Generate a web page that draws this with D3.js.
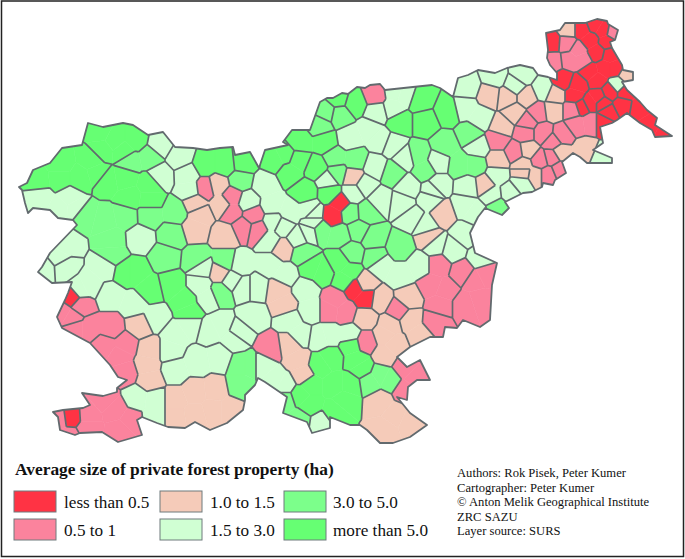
<!DOCTYPE html>
<html>
<head>
<meta charset="utf-8">
<script src="https://cdn.jsdelivr.net/npm/d3@7"></script>
<style>
html, body { margin: 0; padding: 0; background: #fff; }
svg { display: block; }
text { font-family: "Liberation Serif", serif; fill: #111; }
</style>
</head>
<body>
<div id="my_map"></div>
<script>
var width = 685;
var height = 559;

var classNames = ["less than 0.5", "0.5 to 1", "1.0 to 1.5", "1.5 to 3.0", "3.0 to 5.0", "more than 5.0"];
var classColors = ["#ff3344", "#fb839d", "#f5cbb9", "#d0ffd3", "#7cff8b", "#66ff73"];
var titleText = "Average size of private forest property (ha)";
var credits = ["Authors: Rok Pisek, Peter Kumer", "Cartographer: Peter Kumer", "\u00a9 Anton Melik Geographical Institute", "ZRC SAZU", "Layer source: SURS"];

// country border (map units)
var border = [[19,187],[27,183],[33,170],[50,163],[62,148],[82,145],[88,123],[103,127],[123,123],[133,125],[148,135],[163,132],[175,147],[193,148],[207,150],[220,148],[233,147],[235,155],[250,152],[259,168],[265,150],[288,145],[283,142],[292,130],[310,130],[320,102],[327,98],[333,98],[342,93],[348,94],[357,87],[365,88],[370,85],[380,84],[385,90],[413,87],[432,85],[440,88],[453,97],[458,78],[468,75],[478,70],[495,73],[507,68],[520,65],[533,68],[538,75],[548,77],[557,80],[557,73],[550,65],[547,58],[548,50],[546,33],[560,30],[565,23],[573,23],[585,23],[597,19],[607,21],[608,24],[618,30],[615,40],[610,42],[612,48],[622,65],[623,70],[633,72],[633,80],[622,82],[627,90],[640,102],[647,110],[657,118],[655,125],[672,136],[655,137],[652,130],[640,123],[627,113],[617,120],[612,123],[600,127],[603,143],[593,150],[612,158],[612,163],[593,163],[587,163],[580,157],[573,153],[562,162],[566,173],[555,180],[553,185],[543,183],[542,187],[532,192],[523,193],[505,202],[509,208],[502,215],[485,208],[478,217],[470,233],[475,253],[497,263],[492,285],[490,320],[480,327],[463,320],[457,328],[445,327],[443,337],[430,337],[410,347],[397,357],[407,367],[420,360],[430,380],[417,380],[408,387],[407,400],[397,397],[410,413],[427,425],[410,437],[393,443],[380,443],[367,430],[360,425],[350,425],[330,417],[330,428],[312,433],[307,422],[283,413],[287,397],[265,382],[258,378],[255,385],[245,395],[245,400],[243,410],[227,423],[210,430],[195,422],[185,428],[168,427],[157,423],[142,417],[137,420],[142,435],[118,442],[102,432],[80,433],[75,435],[60,430],[58,417],[53,412],[63,410],[83,408],[90,405],[82,393],[103,396],[117,392],[117,388],[127,380],[118,377],[110,365],[90,343],[62,328],[57,317],[65,300],[68,293],[72,282],[52,283],[38,272],[42,267],[50,253],[77,225],[73,220],[58,218],[50,210],[33,208],[28,213],[25,203],[22,190]];

// municipalities by class: each one is a list of points read inside it
var redSeeds = [
  [[72,297]], [[72,416]], [[340,203],[333,215]], [[355,288],[366,298]], [[552,42]],
  [[582,30],[590,40],[597,52]], [[595,25],[603,30],[607,42]], [[610,55],[605,68],[590,72],[597,80],[615,68]], [[563,80]], [[578,85],[575,95]],
  [[598,97],[590,103]], [[582,107]], [[603,103]], [[610,92]], [[608,112]], [[622,105]],
  [[625,92],[640,108],[650,125],[665,134]], [[603,122]]
];
var pinkSeeds = [
  [[81,305]], [[72,318],[62,312]], [[75,328],[90,328],[110,328]], [[105,345],[120,355],[125,372],[125,345]],
  [[105,400],[88,415],[115,410],[120,430],[130,420],[88,428]], [[58,418],[70,438]], [[205,188]], [[232,197],[232,212]],
  [[243,227]], [[253,215]], [[258,230]], [[375,95]], [[270,348]], [[335,300],[345,312],[330,310]],
  [[398,310]], [[435,322]], [[438,265],[432,285],[445,290],[440,305]], [[475,280],[465,305],[480,300],[485,275]], [[463,272]],
  [[365,342]], [[405,368],[415,378],[405,390]], [[527,122]], [[538,112]], [[573,110]], [[577,124],[590,122]],
  [[562,135]], [[543,133]], [[525,133]], [[553,142]], [[498,140]], [[515,152]], [[540,160]], [[552,157]],
  [[548,175]], [[560,170]], [[567,43]], [[553,62]], [[570,60],[582,60],[578,50]], [[613,32]]
];
var peachSeeds = [
  [[140,325]], [[150,350],[147,365],[150,380]], [[175,400],[195,392],[215,390],[213,410],[195,415],[230,410],[175,418]], [[218,185],[222,205],[195,203]],
  [[195,228],[200,215]], [[225,235]], [[283,248]], [[220,272]], [[278,290],[285,305]], [[290,345],[298,360],[303,375]],
  [[365,283]], [[380,300]], [[408,298]], [[365,318]], [[410,320],[420,335]], [[385,335],[395,345],[385,355],[390,325]],
  [[380,402],[395,415],[385,430],[410,422]], [[353,177]], [[442,213]], [[429,238]], [[485,185]], [[498,160]], [[523,165],[535,175]],
  [[490,95]], [[507,97]], [[527,97]], [[555,95]], [[515,113]], [[502,127]], [[553,110]], [[560,152],[585,150]],
  [[528,150]], [[523,173]], [[568,30]], [[627,75]]
];
var paleSeeds = [
  [[160,145]], [[160,176]], [[180,157]], [[188,175],[190,190]], [[40,198],[70,198],[60,208],[75,207]], [[65,245],[58,258]],
  [[46,268]], [[63,267]], [[105,268],[90,285],[80,290]], [[140,238]], [[110,295],[135,305],[155,318]], [[175,335],[190,325],[170,350]],
  [[220,325],[235,340],[210,330]], [[175,370],[197,362],[220,358]], [[137,398],[155,400],[155,418]], [[248,202]], [[265,185],[272,205],[290,212],[310,210]],
  [[273,222],[270,240]], [[283,227]], [[297,238]], [[240,265],[270,265],[285,275]], [[202,268]], [[200,285],[208,298]], [[232,280]],
  [[243,287]], [[257,287]], [[305,290],[310,310]], [[253,317]], [[240,333]], [[330,335],[350,335],[320,338]],
  [[290,320],[300,335]], [[262,365],[275,380],[285,385]], [[320,423]], [[380,265],[400,275],[420,265]],
  [[377,112]], [[395,92],[405,95],[393,108]], [[350,138],[370,130],[380,140]], [[393,145]], [[328,180]], [[375,167]], [[405,158]], [[438,162]],
  [[433,190]], [[408,187]], [[380,200]], [[353,193]], [[365,185]], [[402,203]], [[413,218]], [[313,213]], [[313,223]], [[310,232]],
  [[438,185]], [[468,187]], [[497,175],[492,195]], [[522,183]], [[510,193]], [[465,205],[475,212]], [[430,200],[425,225],[435,245]],
  [[465,235]], [[453,250]], [[480,258]], [[467,87]], [[495,77]], [[522,75]], [[515,85]], [[543,90]], [[465,108],[480,118]], [[478,147]],
  [[602,157]], [[618,85]]
];
var midSeeds = [
  [[130,161],[150,157]], [[85,215],[105,220],[125,216],[112,240],[113,255]], [[150,215],[175,212]], [[172,235]], [[165,257]], [[240,180]], [[197,260],[225,262]],
  [[240,365],[240,385],[250,365]], [[320,125]], [[326,112]], [[340,115]], [[335,158],[355,160]], [[337,173]], [[393,173]],
  [[418,155],[425,170]], [[470,134]], [[445,145],[460,165],[475,165]], [[350,213]], [[367,212]], [[320,230],[340,235]], [[358,230]], [[373,238]],
  [[352,253]], [[375,258]], [[400,247]], [[303,253]], [[370,382],[390,380],[380,375]], [[285,400],[300,420]], [[220,293]], [[498,207]]
];
var strongSeeds = [
  [[102,150],[124,151],[115,140],[135,140],[100,132]], [[92,160],[60,165],[38,180],[60,178],[80,178],[97,173]], [[107,181],[125,178],[130,198],[150,185],[150,200]], [[135,272],[150,290],[125,272]], [[172,285],[185,300],[190,312]],
  [[205,165],[225,165]], [[243,163]], [[275,160],[285,155]], [[290,172],[298,160]], [[317,168]], [[305,192]], [[300,142],[325,142]],
  [[338,98]], [[355,103]], [[400,122]], [[420,100]], [[425,122]], [[448,112]], [[330,193]], [[312,268],[322,272]], [[340,262],[350,272],[345,280]],
  [[352,345],[357,360],[362,368]], [[320,365],[330,358],[310,385],[335,385],[345,400],[310,405],[335,412],[300,395],[350,385]]
];

var seedGroups = [redSeeds, pinkSeeds, peachSeeds, paleSeeds, midSeeds, strongSeeds];

var xScale = d3.scaleLinear().domain([0, 685]).range([0, width]);
var yScale = d3.scaleLinear().domain([0, 559]).range([0, height]);

var svg = d3.select("#my_map").append("svg").attr("width", width).attr("height", height);

// frame
svg.append("rect").attr("x", 1.5).attr("y", 1).attr("width", 682).attr("height", 555.5)
  .attr("fill", "none").attr("stroke", "#222").attr("stroke-width", 1.5);

// flatten, every point remembers its municipality and class
var points = [];
var muniId = 0;
seedGroups.forEach(function(group, c){
  group.forEach(function(muni){
    muni.forEach(function(p){
      points.push({x: xScale(p[0]), y: yScale(p[1]), muni: muniId, cls: c});
    });
    muniId++;
  });
});
// far corners so that no cell inside the country is open
[[-3000,-3000],[4000,-3000],[4000,4000],[-3000,4000]].forEach(function(p){
  points.push({x: p[0], y: p[1], muni: -1, cls: -1});
});

var delaunay = d3.Delaunay.from(points, function(d){ return d.x; }, function(d){ return d.y; });
var voronoi = delaunay.voronoi([-3000, -3000, 4000, 4000]);

var outline = d3.line().x(function(d){ return xScale(d[0]); }).y(function(d){ return yScale(d[1]); }).curve(d3.curveLinearClosed);

svg.append("clipPath").attr("id", "country").append("path").attr("d", outline(border));

var map = svg.append("g").attr("clip-path", "url(#country)");

points.forEach(function(d, i){
  if(d.cls < 0) return;
  map.append("path")
    .attr("d", voronoi.renderCell(i))
    .attr("fill", classColors[d.cls])
    .attr("stroke", classColors[d.cls])
    .attr("stroke-width", 0.6);
});

// municipal borders: only voronoi edges between two different municipalities
var edges = d3.path();
var cc = voronoi.circumcenters;
for(var e = 0; e < delaunay.halfedges.length; e++){
  var o = delaunay.halfedges[e];
  if(o < e) continue;
  var a = points[delaunay.triangles[e]];
  var b = points[delaunay.triangles[o]];
  if(a.muni === b.muni) continue;
  var t1 = Math.floor(e / 3) * 2;
  var t2 = Math.floor(o / 3) * 2;
  edges.moveTo(cc[t1], cc[t1 + 1]);
  edges.lineTo(cc[t2], cc[t2 + 1]);
}
map.append("path").attr("d", edges.toString()).attr("fill", "none")
  .attr("stroke", "#626a6e").attr("stroke-width", 1.7).attr("stroke-linejoin", "round");

svg.append("path").attr("d", outline(border)).attr("fill", "none")
  .attr("stroke", "#626a6e").attr("stroke-width", 1.8).attr("stroke-linejoin", "round");

// legend
svg.append("text").attr("x", 15).attr("y", 475).attr("font-weight", "bold").style("font-size", "17.4px").text(titleText);

var legendCol = d3.scaleOrdinal().domain([0, 1, 2]).range([14, 160, 284]);
var legendRow = d3.scaleOrdinal().domain([0, 1]).range([491, 519]);
classNames.forEach(function(name, i){
  var col = Math.floor(i / 2);
  var row = i % 2;
  svg.append("rect")
    .attr("x", legendCol(col)).attr("y", legendRow(row)).attr("width", 42).attr("height", 21)
    .attr("fill", classColors[i]).attr("stroke", "#6f7a7c").attr("stroke-width", 1);
  svg.append("text")
    .attr("x", legendCol(col) + (col === 2 ? 49 : 50)).attr("y", legendRow(row) + 16.5)
    .style("font-size", "17.2px").text(name);
});

credits.forEach(function(line, i){
  svg.append("text").attr("x", 457).attr("y", 477 + i * 14.5).style("font-size", "12.6px").text(line);
});
</script>
</body>
</html>
